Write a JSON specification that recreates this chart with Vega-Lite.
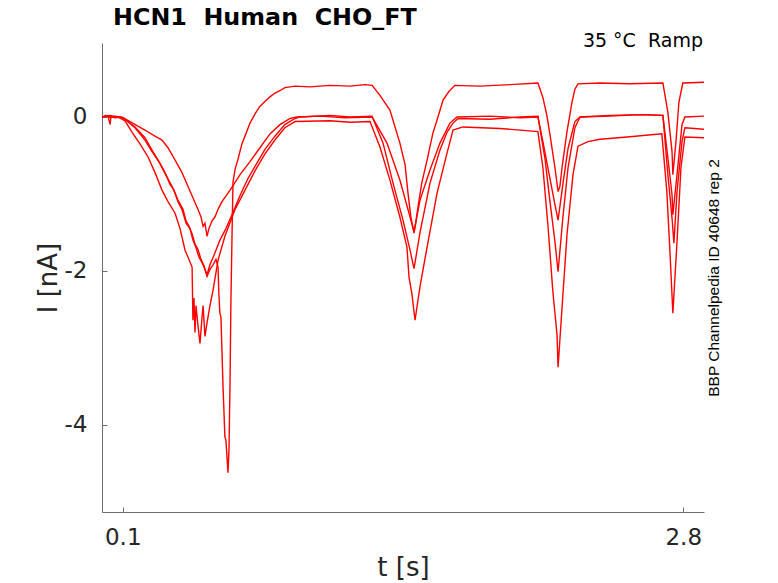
{
  "$schema": "https://vega.github.io/schema/vega-lite/v6.json",
  "width": 602,
  "height": 469,
  "autosize": {"type": "none"},
  "padding": {"left": 102, "top": 43, "right": 74, "bottom": 71},
  "background": "white",
  "title": {
    "text": "HCN1\u00a0\u00a0Human\u00a0\u00a0CHO_FT",
    "anchor": "start",
    "frame": "group",
    "dx": 11,
    "offset": 2,
    "font": "DejaVu Sans",
    "fontSize": 23.8,
    "fontWeight": "bold",
    "color": "#000000"
  },
  "layer": [
    {
      "data": {
        "values": [
          {"s": "A", "t": 0, "i": 0.0}, {"s": "A", "t": 0.019, "i": 0.02}, {"s": "A", "t": 0.039, "i": -0.01}, {"s": "A", "t": 0.063, "i": 0.01},
          {"s": "A", "t": 0.087, "i": 0.0}, {"s": "A", "t": 0.111, "i": -0.03}, {"s": "A", "t": 0.159, "i": -0.13}, {"s": "A", "t": 0.207, "i": -0.27},
          {"s": "A", "t": 0.241, "i": -0.43}, {"s": "A", "t": 0.27, "i": -0.56}, {"s": "A", "t": 0.303, "i": -0.73}, {"s": "A", "t": 0.337, "i": -0.9},
          {"s": "A", "t": 0.366, "i": -1.08}, {"s": "A", "t": 0.39, "i": -1.2}, {"s": "A", "t": 0.405, "i": -1.35}, {"s": "A", "t": 0.419, "i": -1.42},
          {"s": "A", "t": 0.434, "i": -1.52}, {"s": "A", "t": 0.448, "i": -1.65}, {"s": "A", "t": 0.462, "i": -1.72}, {"s": "A", "t": 0.477, "i": -1.85},
          {"s": "A", "t": 0.491, "i": -1.93}, {"s": "A", "t": 0.506, "i": -2.07}, {"s": "A", "t": 0.52, "i": -1.98}, {"s": "A", "t": 0.535, "i": -1.92},
          {"s": "A", "t": 0.549, "i": -1.85}, {"s": "A", "t": 0.559, "i": -1.95}, {"s": "A", "t": 0.563, "i": -2.3}, {"s": "A", "t": 0.568, "i": -2.55},
          {"s": "A", "t": 0.573, "i": -2.6}, {"s": "A", "t": 0.583, "i": -3.5}, {"s": "A", "t": 0.592, "i": -4.15}, {"s": "A", "t": 0.597, "i": -4.2},
          {"s": "A", "t": 0.607, "i": -4.62}, {"s": "A", "t": 0.612, "i": -4.3}, {"s": "A", "t": 0.617, "i": -3.4}, {"s": "A", "t": 0.621, "i": -2.4},
          {"s": "A", "t": 0.626, "i": -1.6}, {"s": "A", "t": 0.631, "i": -0.85}, {"s": "A", "t": 0.641, "i": -0.68}, {"s": "A", "t": 0.655, "i": -0.55},
          {"s": "A", "t": 0.674, "i": -0.35}, {"s": "A", "t": 0.693, "i": -0.22}, {"s": "A", "t": 0.713, "i": -0.08}, {"s": "A", "t": 0.737, "i": 0.04},
          {"s": "A", "t": 0.761, "i": 0.14}, {"s": "A", "t": 0.785, "i": 0.2}, {"s": "A", "t": 0.809, "i": 0.26}, {"s": "A", "t": 0.833, "i": 0.31},
          {"s": "A", "t": 0.857, "i": 0.34}, {"s": "A", "t": 0.881, "i": 0.38}, {"s": "A", "t": 0.906, "i": 0.39}, {"s": "A", "t": 0.93, "i": 0.4},
          {"s": "A", "t": 1.002, "i": 0.39}, {"s": "A", "t": 1.098, "i": 0.41}, {"s": "A", "t": 1.195, "i": 0.4}, {"s": "A", "t": 1.267, "i": 0.42},
          {"s": "A", "t": 1.301, "i": 0.41}, {"s": "A", "t": 1.339, "i": 0.28}, {"s": "A", "t": 1.387, "i": 0.09}, {"s": "A", "t": 1.435, "i": -0.34},
          {"s": "A", "t": 1.46, "i": -0.62}, {"s": "A", "t": 1.474, "i": -0.99}, {"s": "A", "t": 1.488, "i": -1.3}, {"s": "A", "t": 1.503, "i": -1.51},
          {"s": "A", "t": 1.513, "i": -1.35}, {"s": "A", "t": 1.522, "i": -1.17}, {"s": "A", "t": 1.541, "i": -0.85}, {"s": "A", "t": 1.566, "i": -0.56},
          {"s": "A", "t": 1.594, "i": -0.21}, {"s": "A", "t": 1.614, "i": -0.04}, {"s": "A", "t": 1.643, "i": 0.22}, {"s": "A", "t": 1.671, "i": 0.33},
          {"s": "A", "t": 1.7, "i": 0.41}, {"s": "A", "t": 1.821, "i": 0.4}, {"s": "A", "t": 1.965, "i": 0.42}, {"s": "A", "t": 2.1, "i": 0.44},
          {"s": "A", "t": 2.124, "i": 0.25}, {"s": "A", "t": 2.143, "i": 0.02}, {"s": "A", "t": 2.158, "i": -0.23}, {"s": "A", "t": 2.182, "i": -0.66},
          {"s": "A", "t": 2.197, "i": -0.97}, {"s": "A", "t": 2.206, "i": -0.9}, {"s": "A", "t": 2.216, "i": -0.66}, {"s": "A", "t": 2.24, "i": -0.19},
          {"s": "A", "t": 2.264, "i": 0.19}, {"s": "A", "t": 2.278, "i": 0.36}, {"s": "A", "t": 2.293, "i": 0.43}, {"s": "A", "t": 2.399, "i": 0.44},
          {"s": "A", "t": 2.543, "i": 0.43}, {"s": "A", "t": 2.702, "i": 0.44}, {"s": "A", "t": 2.726, "i": 0.06}, {"s": "A", "t": 2.746, "i": -0.45},
          {"s": "A", "t": 2.75, "i": -0.75}, {"s": "A", "t": 2.765, "i": -0.32}, {"s": "A", "t": 2.779, "i": 0.19}, {"s": "A", "t": 2.798, "i": 0.44},
          {"s": "A", "t": 2.9, "i": 0.45},

          {"s": "B", "t": 0, "i": 0.0}, {"s": "B", "t": 0.029, "i": 0.01}, {"s": "B", "t": 0.063, "i": -0.01}, {"s": "B", "t": 0.096, "i": 0.0},
          {"s": "B", "t": 0.135, "i": -0.06}, {"s": "B", "t": 0.173, "i": -0.12}, {"s": "B", "t": 0.207, "i": -0.17}, {"s": "B", "t": 0.255, "i": -0.25},
          {"s": "B", "t": 0.289, "i": -0.3}, {"s": "B", "t": 0.318, "i": -0.4}, {"s": "B", "t": 0.352, "i": -0.56}, {"s": "B", "t": 0.385, "i": -0.72},
          {"s": "B", "t": 0.414, "i": -0.9}, {"s": "B", "t": 0.438, "i": -1.05}, {"s": "B", "t": 0.462, "i": -1.2}, {"s": "B", "t": 0.477, "i": -1.3},
          {"s": "B", "t": 0.487, "i": -1.42}, {"s": "B", "t": 0.496, "i": -1.38}, {"s": "B", "t": 0.506, "i": -1.55}, {"s": "B", "t": 0.515, "i": -1.45},
          {"s": "B", "t": 0.53, "i": -1.35}, {"s": "B", "t": 0.544, "i": -1.3}, {"s": "B", "t": 0.559, "i": -1.2}, {"s": "B", "t": 0.578, "i": -1.1},
          {"s": "B", "t": 0.617, "i": -0.95}, {"s": "B", "t": 0.665, "i": -0.75}, {"s": "B", "t": 0.713, "i": -0.58}, {"s": "B", "t": 0.761, "i": -0.4},
          {"s": "B", "t": 0.809, "i": -0.22}, {"s": "B", "t": 0.857, "i": -0.1}, {"s": "B", "t": 0.906, "i": -0.02}, {"s": "B", "t": 0.939, "i": 0.0},
          {"s": "B", "t": 1.05, "i": 0.01}, {"s": "B", "t": 1.171, "i": -0.01}, {"s": "B", "t": 1.301, "i": 0.0}, {"s": "B", "t": 1.373, "i": -0.34},
          {"s": "B", "t": 1.435, "i": -0.82}, {"s": "B", "t": 1.484, "i": -1.3}, {"s": "B", "t": 1.503, "i": -1.49}, {"s": "B", "t": 1.532, "i": -1.08},
          {"s": "B", "t": 1.58, "i": -0.69}, {"s": "B", "t": 1.628, "i": -0.34}, {"s": "B", "t": 1.676, "i": -0.08}, {"s": "B", "t": 1.71, "i": 0.0},
          {"s": "B", "t": 1.869, "i": 0.01}, {"s": "B", "t": 2.013, "i": -0.01}, {"s": "B", "t": 2.1, "i": 0.0}, {"s": "B", "t": 2.124, "i": -0.32},
          {"s": "B", "t": 2.158, "i": -0.8}, {"s": "B", "t": 2.182, "i": -1.14}, {"s": "B", "t": 2.197, "i": -1.34}, {"s": "B", "t": 2.22, "i": -0.88},
          {"s": "B", "t": 2.245, "i": -0.41}, {"s": "B", "t": 2.278, "i": -0.06}, {"s": "B", "t": 2.303, "i": 0.0}, {"s": "B", "t": 2.447, "i": 0.02},
          {"s": "B", "t": 2.592, "i": 0.03}, {"s": "B", "t": 2.702, "i": 0.02}, {"s": "B", "t": 2.726, "i": -0.53}, {"s": "B", "t": 2.746, "i": -1.01},
          {"s": "B", "t": 2.75, "i": -1.27}, {"s": "B", "t": 2.77, "i": -0.75}, {"s": "B", "t": 2.794, "i": -0.1}, {"s": "B", "t": 2.808, "i": 0.0},
          {"s": "B", "t": 2.9, "i": 0.01},

          {"s": "C", "t": 0, "i": 0.0}, {"s": "C", "t": 0.039, "i": 0.02}, {"s": "C", "t": 0.072, "i": 0.0}, {"s": "C", "t": 0.106, "i": -0.02},
          {"s": "C", "t": 0.159, "i": -0.14}, {"s": "C", "t": 0.207, "i": -0.3}, {"s": "C", "t": 0.241, "i": -0.45}, {"s": "C", "t": 0.279, "i": -0.6},
          {"s": "C", "t": 0.303, "i": -0.72}, {"s": "C", "t": 0.328, "i": -0.88}, {"s": "C", "t": 0.347, "i": -0.95}, {"s": "C", "t": 0.366, "i": -1.1},
          {"s": "C", "t": 0.385, "i": -1.2}, {"s": "C", "t": 0.405, "i": -1.38}, {"s": "C", "t": 0.424, "i": -1.45}, {"s": "C", "t": 0.438, "i": -1.6},
          {"s": "C", "t": 0.453, "i": -1.7}, {"s": "C", "t": 0.467, "i": -1.82}, {"s": "C", "t": 0.487, "i": -1.92}, {"s": "C", "t": 0.506, "i": -2.05},
          {"s": "C", "t": 0.52, "i": -1.92}, {"s": "C", "t": 0.539, "i": -1.8}, {"s": "C", "t": 0.568, "i": -1.6}, {"s": "C", "t": 0.597, "i": -1.45},
          {"s": "C", "t": 0.626, "i": -1.27}, {"s": "C", "t": 0.665, "i": -1.02}, {"s": "C", "t": 0.703, "i": -0.8}, {"s": "C", "t": 0.742, "i": -0.62},
          {"s": "C", "t": 0.785, "i": -0.42}, {"s": "C", "t": 0.833, "i": -0.25}, {"s": "C", "t": 0.881, "i": -0.1}, {"s": "C", "t": 0.93, "i": -0.02},
          {"s": "C", "t": 0.954, "i": 0.0}, {"s": "C", "t": 1.098, "i": 0.02}, {"s": "C", "t": 1.195, "i": 0.0}, {"s": "C", "t": 1.301, "i": 0.01},
          {"s": "C", "t": 1.354, "i": -0.34}, {"s": "C", "t": 1.402, "i": -0.86}, {"s": "C", "t": 1.45, "i": -1.34}, {"s": "C", "t": 1.484, "i": -1.73},
          {"s": "C", "t": 1.503, "i": -1.97}, {"s": "C", "t": 1.532, "i": -1.5}, {"s": "C", "t": 1.58, "i": -0.86}, {"s": "C", "t": 1.628, "i": -0.43},
          {"s": "C", "t": 1.662, "i": -0.2}, {"s": "C", "t": 1.691, "i": -0.08}, {"s": "C", "t": 1.715, "i": -0.02}, {"s": "C", "t": 1.869, "i": -0.03},
          {"s": "C", "t": 2.013, "i": 0.0}, {"s": "C", "t": 2.1, "i": 0.01}, {"s": "C", "t": 2.134, "i": -0.54}, {"s": "C", "t": 2.158, "i": -1.1},
          {"s": "C", "t": 2.182, "i": -1.62}, {"s": "C", "t": 2.197, "i": -2.01}, {"s": "C", "t": 2.22, "i": -1.31}, {"s": "C", "t": 2.245, "i": -0.66},
          {"s": "C", "t": 2.278, "i": -0.14}, {"s": "C", "t": 2.303, "i": 0.0}, {"s": "C", "t": 2.447, "i": 0.01}, {"s": "C", "t": 2.592, "i": 0.03},
          {"s": "C", "t": 2.702, "i": 0.02}, {"s": "C", "t": 2.726, "i": -0.75}, {"s": "C", "t": 2.746, "i": -1.31}, {"s": "C", "t": 2.755, "i": -1.64},
          {"s": "C", "t": 2.77, "i": -0.97}, {"s": "C", "t": 2.794, "i": -0.32}, {"s": "C", "t": 2.808, "i": -0.14}, {"s": "C", "t": 2.9, "i": -0.16},

          {"s": "D", "t": 0, "i": 0.0}, {"s": "D", "t": 0.029, "i": 0.01}, {"s": "D", "t": 0.039, "i": -0.1}, {"s": "D", "t": 0.043, "i": 0.0},
          {"s": "D", "t": 0.077, "i": 0.0}, {"s": "D", "t": 0.111, "i": -0.05}, {"s": "D", "t": 0.145, "i": -0.2}, {"s": "D", "t": 0.183, "i": -0.35},
          {"s": "D", "t": 0.222, "i": -0.52}, {"s": "D", "t": 0.255, "i": -0.72}, {"s": "D", "t": 0.289, "i": -0.95}, {"s": "D", "t": 0.318, "i": -1.1},
          {"s": "D", "t": 0.352, "i": -1.25}, {"s": "D", "t": 0.376, "i": -1.45}, {"s": "D", "t": 0.4, "i": -1.73}, {"s": "D", "t": 0.419, "i": -1.85},
          {"s": "D", "t": 0.434, "i": -1.95}, {"s": "D", "t": 0.438, "i": -2.64}, {"s": "D", "t": 0.443, "i": -2.35}, {"s": "D", "t": 0.448, "i": -2.8},
          {"s": "D", "t": 0.453, "i": -2.45}, {"s": "D", "t": 0.462, "i": -2.7}, {"s": "D", "t": 0.472, "i": -2.94}, {"s": "D", "t": 0.482, "i": -2.6},
          {"s": "D", "t": 0.487, "i": -2.45}, {"s": "D", "t": 0.496, "i": -2.85}, {"s": "D", "t": 0.506, "i": -2.67}, {"s": "D", "t": 0.52, "i": -2.45},
          {"s": "D", "t": 0.535, "i": -2.25}, {"s": "D", "t": 0.559, "i": -1.86}, {"s": "D", "t": 0.592, "i": -1.55}, {"s": "D", "t": 0.641, "i": -1.2},
          {"s": "D", "t": 0.689, "i": -0.95}, {"s": "D", "t": 0.737, "i": -0.7}, {"s": "D", "t": 0.785, "i": -0.48}, {"s": "D", "t": 0.833, "i": -0.3},
          {"s": "D", "t": 0.881, "i": -0.14}, {"s": "D", "t": 0.93, "i": -0.06}, {"s": "D", "t": 1.098, "i": -0.05}, {"s": "D", "t": 1.195, "i": -0.07},
          {"s": "D", "t": 1.291, "i": -0.06}, {"s": "D", "t": 1.339, "i": -0.39}, {"s": "D", "t": 1.387, "i": -0.82}, {"s": "D", "t": 1.435, "i": -1.3},
          {"s": "D", "t": 1.469, "i": -1.69}, {"s": "D", "t": 1.479, "i": -2.08}, {"s": "D", "t": 1.493, "i": -2.3}, {"s": "D", "t": 1.508, "i": -2.64},
          {"s": "D", "t": 1.532, "i": -2.2}, {"s": "D", "t": 1.566, "i": -1.69}, {"s": "D", "t": 1.614, "i": -0.99}, {"s": "D", "t": 1.662, "i": -0.47},
          {"s": "D", "t": 1.691, "i": -0.17}, {"s": "D", "t": 1.739, "i": -0.13}, {"s": "D", "t": 1.917, "i": -0.15}, {"s": "D", "t": 2.1, "i": -0.19},
          {"s": "D", "t": 2.124, "i": -0.66}, {"s": "D", "t": 2.148, "i": -1.4}, {"s": "D", "t": 2.172, "i": -2.27}, {"s": "D", "t": 2.192, "i": -2.83},
          {"s": "D", "t": 2.197, "i": -3.25}, {"s": "D", "t": 2.216, "i": -2.48}, {"s": "D", "t": 2.24, "i": -1.53}, {"s": "D", "t": 2.269, "i": -0.75},
          {"s": "D", "t": 2.293, "i": -0.38}, {"s": "D", "t": 2.341, "i": -0.32}, {"s": "D", "t": 2.399, "i": -0.29}, {"s": "D", "t": 2.529, "i": -0.26},
          {"s": "D", "t": 2.697, "i": -0.22}, {"s": "D", "t": 2.721, "i": -0.97}, {"s": "D", "t": 2.736, "i": -1.75}, {"s": "D", "t": 2.75, "i": -2.55},
          {"s": "D", "t": 2.77, "i": -1.62}, {"s": "D", "t": 2.789, "i": -0.66}, {"s": "D", "t": 2.808, "i": -0.26}, {"s": "D", "t": 2.9, "i": -0.27}
        ]
      },
      "mark": {"type": "line", "color": "#ff0000", "strokeWidth": 1.4, "clip": true},
      "encoding": {
        "x": {
          "field": "t",
          "type": "quantitative",
          "scale": {"domain": [0, 2.9], "nice": false, "zero": false},
          "axis": {
            "values": [0.1, 2.8],
            "format": ".1f",
            "title": "t [s]",
            "titleFont": "DejaVu Sans",
            "titleFontSize": 26,
            "titleFontWeight": "normal",
            "titleColor": "#262626",
            "titlePadding": 5,
            "labelFont": "DejaVu Sans",
            "labelFontSize": 23,
            "labelColor": "#262626",
            "labelPadding": 19,
            "tickSize": -5,
            "tickColor": "#6e6e6e",
            "domainColor": "#6e6e6e",
            "grid": false
          }
        },
        "y": {
          "field": "i",
          "type": "quantitative",
          "scale": {"domain": [-5.13, 0.96], "nice": false, "zero": false},
          "axis": {
            "values": [-4, -2, 0],
            "labelExpr": "toString(datum.value)",
            "title": "I [nA]",
            "titleFont": "DejaVu Sans",
            "titleFontSize": 26,
            "titleFontWeight": "normal",
            "titleColor": "#262626",
            "titlePadding": 3,
            "labelFont": "DejaVu Sans",
            "labelFontSize": 23,
            "labelColor": "#262626",
            "labelPadding": 20,
            "tickSize": -5,
            "tickColor": "#6e6e6e",
            "domainColor": "#6e6e6e",
            "grid": false
          }
        },
        "detail": {"field": "s", "type": "nominal"}
      }
    },
    {
      "data": {"values": [{"t": 2.895, "i": 0.909, "label": "35 °C\u00a0\u00a0Ramp"}]},
      "mark": {"type": "text", "align": "right", "baseline": "alphabetic", "font": "DejaVu Sans", "fontSize": 19, "color": "#000000"},
      "encoding": {
        "x": {"field": "t", "type": "quantitative", "scale": {"domain": [0, 2.9], "nice": false, "zero": false}, "axis": null},
        "y": {
          "field": "i",
          "type": "quantitative",
          "scale": {"domain": [-5.13, 0.96], "nice": false, "zero": false},
          "axis": {
            "orient": "right",
            "title": "BBP Channelpedia ID 40648 rep 2",
            "labels": false,
            "ticks": false,
            "domain": false,
            "grid": false,
            "titleAngle": 270,
            "titleFont": "Liberation Sans",
            "titleFontSize": 15.5,
            "titleFontWeight": "normal",
            "titleColor": "#000000",
            "titlePadding": 17
          }
        },
        "text": {"field": "label"}
      }
    }
  ],
  "resolve": {"axis": {"x": "independent", "y": "independent"}},
  "config": {"view": {"stroke": null}}
}
